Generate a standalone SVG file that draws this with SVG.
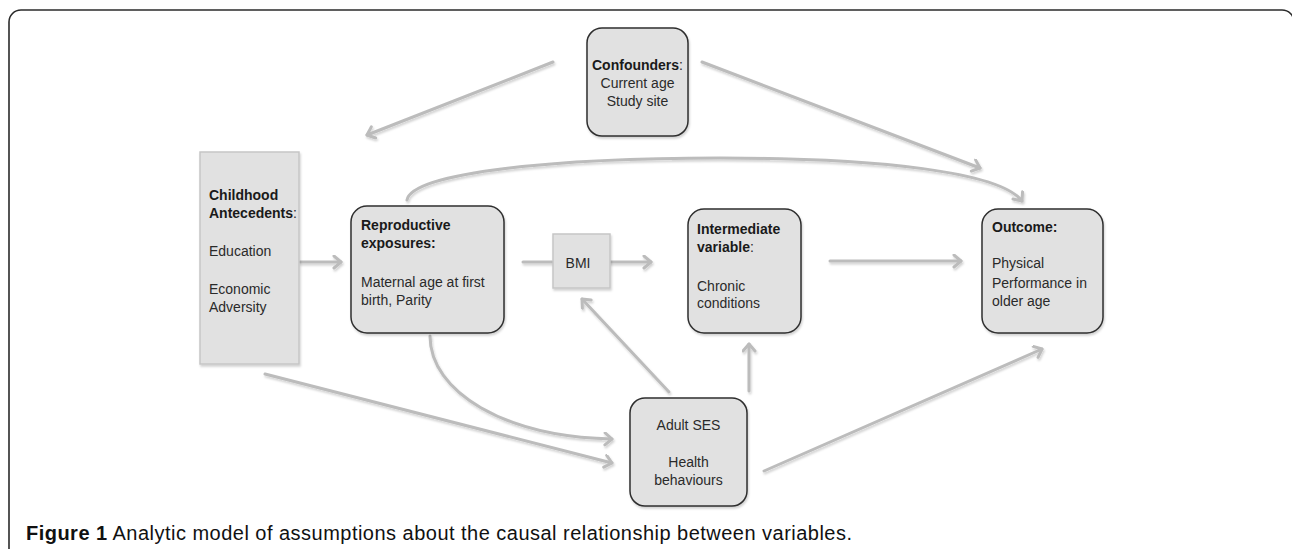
<svg xmlns="http://www.w3.org/2000/svg" width="1292" height="549" viewBox="0 0 1292 549">
<defs>
<style>
.frame{fill:none;stroke:#2b2b2b;stroke-width:1.6}
.rbox{fill:#e1e1e1;stroke:#2f2f2f;stroke-width:1.5}
.sbox{fill:#e1e1e1;stroke:#c6c6c6;stroke-width:1.5}
.conn{fill:none;stroke:#bcbcbc;stroke-width:3;stroke-linecap:round}
text{font-family:"Liberation Sans",Arial,sans-serif;font-size:14px;fill:#2a2a2a}
.b{font-weight:bold;fill:#1a1a1a}
.cap{font-size:20px;fill:#111}
</style>
<marker id="ah" markerUnits="userSpaceOnUse" markerWidth="16" markerHeight="16" refX="10" refY="7" orient="auto">
<path d="M3,1 L10,7 L3,13" fill="none" stroke="#bcbcbc" stroke-width="3" stroke-linecap="round" stroke-linejoin="round"/>
</marker>
<filter id="sh" x="-10%" y="-10%" width="130%" height="130%">
<feDropShadow dx="1" dy="2" stdDeviation="1.2" flood-color="#000" flood-opacity="0.18"/>
</filter>
</defs>
<rect width="1292" height="549" fill="#ffffff"/>
<path class="frame" d="M9,549 V22 A12,12 0 0 1 21,10 H1282 A12,12 0 0 1 1294,22 V549"/>

<g id="connectors" filter="url(#sh)">
<line class="conn" x1="553" y1="62" x2="367" y2="135" marker-end="url(#ah)"/>
<line class="conn" x1="702" y1="62" x2="980" y2="168" marker-end="url(#ah)"/>
<path class="conn" d="M407,200 C412,172 560,158 720,158 C880,158 1000,172 1022,201" marker-end="url(#ah)"/>
<line class="conn" x1="300" y1="262" x2="341" y2="262" marker-end="url(#ah)"/>
<line class="conn" x1="523" y1="262" x2="552" y2="262"/>
<line class="conn" x1="610" y1="262" x2="651" y2="262" marker-end="url(#ah)"/>
<line class="conn" x1="830" y1="261" x2="961" y2="261" marker-end="url(#ah)"/>
<path class="conn" d="M430,336 C430,392 505,437 612,439" marker-end="url(#ah)"/>
<line class="conn" x1="265" y1="374" x2="612" y2="463" marker-end="url(#ah)"/>
<line class="conn" x1="669" y1="392" x2="582" y2="299" marker-end="url(#ah)"/>
<line class="conn" x1="749" y1="391" x2="749" y2="344" marker-end="url(#ah)"/>
<line class="conn" x1="764" y1="471" x2="1042" y2="349" marker-end="url(#ah)"/>
</g>

<g id="confounders">
<rect class="rbox" x="587" y="28" width="101" height="108" rx="15" filter="url(#sh)"/>
<text x="637.5" y="70" text-anchor="middle"><tspan class="b">Confounders</tspan>:</text>
<text x="637.5" y="88" text-anchor="middle">Current age</text>
<text x="637.5" y="106" text-anchor="middle">Study site</text>
</g>

<g id="childhood">
<rect class="sbox" x="200" y="152" width="99" height="212" filter="url(#sh)"/>
<text x="209" y="200" class="b">Childhood</text>
<text x="209" y="218"><tspan class="b">Antecedents</tspan>:</text>
<text x="209" y="256">Education</text>
<text x="209" y="294">Economic</text>
<text x="209" y="312">Adversity</text>
</g>

<g id="reproductive">
<rect class="rbox" x="351" y="206" width="153" height="127" rx="16" filter="url(#sh)"/>
<text x="361" y="230" class="b">Reproductive</text>
<text x="361" y="248" class="b">exposures:</text>
<text x="361" y="287">Maternal age at first</text>
<text x="361" y="305">birth, Parity</text>
</g>

<g id="bmi">
<rect class="sbox" x="553" y="234" width="57" height="54" filter="url(#sh)"/>
<text x="578" y="268" text-anchor="middle">BMI</text>
</g>

<g id="intermediate">
<rect class="rbox" x="688" y="209" width="113" height="124" rx="16" filter="url(#sh)"/>
<text x="697" y="234"><tspan class="b">Intermediate</tspan></text>
<text x="697" y="252"><tspan class="b">variable</tspan>:</text>
<text x="697" y="291">Chronic</text>
<text x="697" y="308">conditions</text>
</g>

<g id="outcome">
<rect class="rbox" x="982" y="209" width="121" height="124" rx="16" filter="url(#sh)"/>
<text x="992" y="232" class="b">Outcome:</text>
<text x="992" y="268">Physical</text>
<text x="992" y="288">Performance in</text>
<text x="992" y="306">older age</text>
</g>

<g id="adultses">
<rect class="rbox" x="630" y="398" width="117" height="108" rx="15" filter="url(#sh)"/>
<text x="688.5" y="430" text-anchor="middle">Adult SES</text>
<text x="688.5" y="467" text-anchor="middle">Health</text>
<text x="688.5" y="485" text-anchor="middle">behaviours</text>
</g>

<g id="caption">
<text class="cap" x="26" y="540" textLength="826"><tspan font-weight="bold">Figure 1</tspan> Analytic model of assumptions about the causal relationship between variables.</text>
</g>
</svg>
